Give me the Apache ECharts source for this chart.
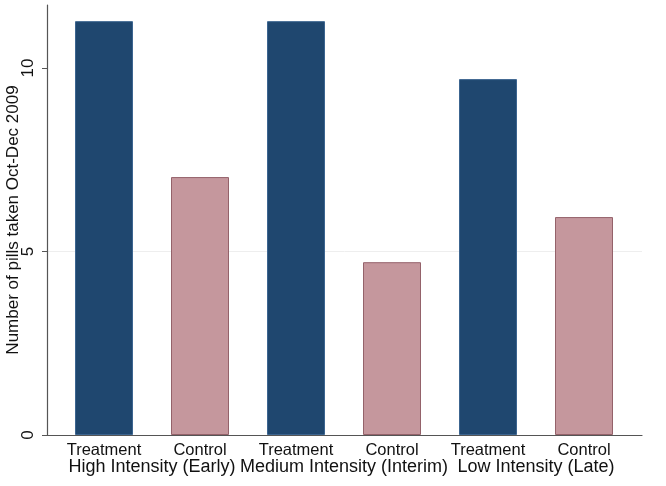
<!DOCTYPE html>
<html>
<head>
<meta charset="utf-8">
<script src="https://cdn.jsdelivr.net/npm/echarts@6/dist/echarts.min.js"></script>
<style>html,body{margin:0;padding:0;background:#fff}#c{width:666px;height:486px}</style>
</head>
<body>
<div id="c"></div>
<script>
const categories = ['Treatment', 'Control', 'Treatment', 'Control', 'Treatment', 'Control'];
const groups = ['High Intensity (Early)', 'Medium Intensity (Interim)', 'Low Intensity (Late)'];
const values = [11.28, 7.03, 11.28, 4.71, 9.70, 5.94];
const yTicks = [0, 5, 10];
const yTitle = 'Number of pills taken Oct-Dec 2009';

const colorMap = { Treatment: '#1f476f', Control: '#c5979d' };
const borderMap = { Treatment: '#3c6590', Control: '#94626a' };
const FONT = 'Liberation Sans, Arial, Helvetica, sans-serif';
const yMax = 11.72;

const chart = echarts.init(document.getElementById('c'), null, { renderer: 'canvas' });
chart.setOption({
  backgroundColor: '#ffffff',
  animation: false,
  grid: [
    { left: 47, right: 24, top: 5, bottom: 51, containLabel: false, outerBoundsMode: 'none' },
    { left: 56, right: 34, top: 5, bottom: 51, containLabel: false, outerBoundsMode: 'none' }
  ],
  xAxis: [
    { gridIndex: 0, type: 'value', min: 0, max: 1, position: 'bottom',
      axisLine: { show: true, lineStyle: { color: '#555', width: 1.2 } },
      axisTick: { show: false }, axisLabel: { show: false }, splitLine: { show: false } },
    { gridIndex: 1, type: 'category', data: categories, position: 'bottom',
      axisLine: { show: false }, axisTick: { show: false },
      axisLabel: { fontSize: 16.5, color: '#111', fontFamily: FONT, margin: 7, interval: 0 } },
    { gridIndex: 1, type: 'category', data: groups, position: 'bottom',
      axisLine: { show: false }, axisTick: { show: false },
      axisLabel: { fontSize: 18, color: '#111', fontFamily: FONT, margin: 23, interval: 0 } }
  ],
  yAxis: [
    { gridIndex: 0, type: 'value', min: 0, max: yMax, interval: 5,
      name: yTitle, nameLocation: 'middle', nameRotate: 90, nameGap: 25, nameMoveOverlap: false,
      nameTextStyle: { fontSize: 17, color: '#111', fontFamily: FONT },
      axisLine: { show: true, lineStyle: { color: '#555', width: 1.2 } },
      axisTick: { show: true, length: 5, lineStyle: { color: '#555' }, customValues: yTicks },
      axisLabel: { rotate: 90, fontSize: 17, color: '#111', fontFamily: FONT, margin: 10, customValues: yTicks },
      splitLine: { show: true, showMinLine: false, showMaxLine: false, lineStyle: { color: '#eeeeee', width: 1 } } },
    { gridIndex: 1, type: 'value', min: 0, max: yMax, show: false, splitLine: { show: false } }
  ],
  series: [{
    type: 'bar', xAxisIndex: 1, yAxisIndex: 1, barWidth: 58,
    data: values.map((v, i) => ({
      value: v,
      itemStyle: { color: colorMap[categories[i]], borderColor: borderMap[categories[i]], borderWidth: 1 }
    }))
  }]
});
</script>
</body>
</html>
